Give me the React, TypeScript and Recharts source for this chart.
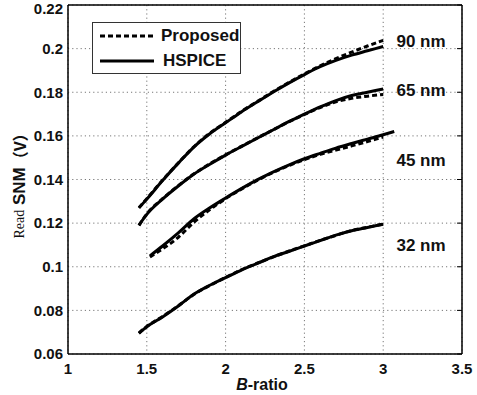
import { LineChart, Line, XAxis, YAxis, CartesianGrid, Legend, ReferenceDot } from "recharts";

// B-ratio sample points
const bRatio = [1.45, 1.5, 1.6, 1.7, 1.8, 1.9, 2.0, 2.1, 2.2, 2.3, 2.4, 2.5, 2.6, 2.7, 2.8, 2.9, 3.0];
const bRatio45 = [1.52, 1.6, 1.7, 1.8, 1.9, 2.0, 2.1, 2.2, 2.3, 2.4, 2.5, 2.6, 2.7, 2.8, 2.9, 3.0, 3.07];
const bRatio45p = [1.52, 1.6, 1.7, 1.8, 1.9, 2.0, 2.1, 2.2, 2.3, 2.4, 2.5, 2.6, 2.7, 2.8, 2.9, 3.0];

// Read SNM (V)
const hspice90 = [0.127, 0.131, 0.1395, 0.1475, 0.155, 0.161, 0.166, 0.171, 0.1755, 0.18, 0.1842, 0.1881, 0.1917, 0.1946, 0.197, 0.199, 0.201];
const proposed90 = [0.127, 0.1312, 0.1397, 0.1476, 0.1551, 0.1612, 0.1662, 0.1712, 0.1757, 0.1802, 0.1844, 0.1884, 0.1921, 0.1954, 0.1984, 0.2012, 0.2038];
const hspice65 = [0.119, 0.124, 0.131, 0.137, 0.1425, 0.147, 0.1512, 0.1551, 0.1589, 0.1627, 0.1665, 0.17, 0.1733, 0.1762, 0.1785, 0.18, 0.1815];
const proposed65 = [0.119, 0.1242, 0.1312, 0.1372, 0.1426, 0.1472, 0.1513, 0.1552, 0.159, 0.1627, 0.1664, 0.1698, 0.173, 0.1756, 0.1772, 0.1782, 0.179];
const hspice45 = [0.105, 0.1095, 0.1155, 0.122, 0.127, 0.1315, 0.1358, 0.1398, 0.1434, 0.1466, 0.1495, 0.152, 0.1544, 0.1565, 0.1585, 0.1605, 0.162];
const proposed45 = [0.1045, 0.1082, 0.1135, 0.1205, 0.1262, 0.1312, 0.1356, 0.1396, 0.1432, 0.1463, 0.1491, 0.1515, 0.1535, 0.1554, 0.1574, 0.1595];
const hspice32 = [0.0695, 0.0725, 0.077, 0.082, 0.0875, 0.0915, 0.095, 0.0985, 0.1015, 0.1045, 0.107, 0.1095, 0.112, 0.1145, 0.1165, 0.118, 0.1195];
const proposed32 = [0.0696, 0.0726, 0.0772, 0.0821, 0.0874, 0.0914, 0.0951, 0.0986, 0.1016, 0.1044, 0.1071, 0.1096, 0.1121, 0.1144, 0.1166, 0.1181, 0.1196];

const xTicks = [1, 1.5, 2, 2.5, 3, 3.5];
const yTicks = [0.06, 0.08, 0.1, 0.12, 0.14, 0.16, 0.18, 0.2, 0.22];

const nodeLabels = [
  { text: "90 nm", x: 3.24, y: 0.2035 },
  { text: "65 nm", x: 3.24, y: 0.181 },
  { text: "45 nm", x: 3.24, y: 0.149 },
  { text: "32 nm", x: 3.24, y: 0.11 },
];

const zip = (xs: number[], ys: number[]) => ys.map((v, i) => ({ b: xs[i], snm: v }));

const series = [
  { name: "hspice90", data: zip(bRatio, hspice90), dashed: false },
  { name: "proposed90", data: zip(bRatio, proposed90), dashed: true },
  { name: "hspice65", data: zip(bRatio, hspice65), dashed: false },
  { name: "proposed65", data: zip(bRatio, proposed65), dashed: true },
  { name: "hspice45", data: zip(bRatio45, hspice45), dashed: false },
  { name: "proposed45", data: zip(bRatio45p, proposed45), dashed: true },
  { name: "hspice32", data: zip(bRatio, hspice32), dashed: false },
  { name: "proposed32", data: zip(bRatio, proposed32), dashed: true },
];

const SANS = "'Liberation Sans', Arial, sans-serif";
const tickStyle = { fontSize: 15, fontWeight: 700, fill: "#111", fontFamily: SANS };
const fmt = (v: number) => String(+v.toFixed(2));

function LegendBox() {
  const row = (dashed: boolean, label: string) => (
    <div style={{ display: "flex", alignItems: "center", height: 25 }}>
      <svg width={54} height={6} style={{ marginLeft: 7 }}>
        <line x1={0} y1={3} x2={54} y2={3} stroke="#000" strokeWidth={3.2} strokeDasharray={dashed ? "5 3" : undefined} />
      </svg>
      <span style={{ marginLeft: dashed ? 7 : 9, fontFamily: SANS, fontWeight: 700, fontSize: 17, color: "#111" }}>{label}</span>
    </div>
  );
  return (
    <div style={{ width: 147, height: 50, border: "1px solid #333", background: "#fff", overflow: "hidden" }}>
      {row(true, "Proposed")}
      {row(false, "HSPICE")}
    </div>
  );
}

export default function App() {
  return (
    <div style={{ width: 477, height: 395, background: "#fff" }}>
      <style>{"body{margin:0}"}</style>
      <LineChart width={477} height={395} margin={{ top: 5, right: 15, left: 0, bottom: 0 }}>
        <CartesianGrid stroke="#777" strokeDasharray="1.2 3" />
        <XAxis
          dataKey="b"
          type="number"
          domain={[1, 3.5]}
          ticks={xTicks}
          height={41}
          tickLine={false}
          tickSize={7}
          tickMargin={2}
          axisLine={{ stroke: "#000", strokeWidth: 1.5 }}
          tick={tickStyle}
          tickFormatter={fmt}
          allowDuplicatedCategory={false}
          label={{
            position: "insideBottom",
            content: () => (
              <text x={262} y={390} textAnchor="middle" fontFamily={SANS} fontWeight={700} fontSize={16} fill="#111">
                <tspan fontStyle="italic">B</tspan>-ratio
              </text>
            ),
          }}
        />
        <XAxis
          xAxisId="top"
          orientation="top"
          type="number"
          domain={[1, 3.5]}
          ticks={xTicks}
          mirror
          tickSize={4}
          tickFormatter={() => ""}
          tickLine={{ stroke: "#000" }}
          axisLine={{ stroke: "#000", strokeWidth: 1.5 }}
        />
        <YAxis
          type="number"
          domain={[0.06, 0.22]}
          ticks={yTicks}
          width={68}
          tickLine={false}
          tickSize={3}
          tickMargin={2}
          axisLine={{ stroke: "#000", strokeWidth: 1.5 }}
          tick={tickStyle}
          tickFormatter={fmt}
          label={{
            position: "insideLeft",
            content: () => (
              <text x={19} y={182} transform="rotate(-90, 19, 182)" textAnchor="middle" dominantBaseline="central" fill="#111">
                <tspan fontFamily="'Liberation Serif', serif" fontSize={14}>Read</tspan>
                <tspan fontFamily={SANS} fontWeight={700} fontSize={17}> SNM</tspan>
                <tspan fontFamily="'Noto Sans CJK SC', sans-serif" fontWeight={700} fontSize={16}>（V）</tspan>
              </text>
            ),
          }}
        />
        <YAxis
          yAxisId="right"
          orientation="right"
          type="number"
          domain={[0.06, 0.22]}
          ticks={yTicks}
          mirror
          allowDataOverflow
          tickSize={5}
          tickFormatter={() => ""}
          tickLine={{ stroke: "#000" }}
          axisLine={{ stroke: "#000", strokeWidth: 1.5 }}
        />
        <Legend
          layout="vertical"
          align="center"
          verticalAlign="middle"
          wrapperStyle={{ left: 92, top: 22, width: 149, height: 52 }}
          content={() => <LegendBox />}
        />
        {series.map((s) => (
          <Line
            key={s.name}
            data={s.data}
            dataKey="snm"
            type="monotone"
            stroke="#000"
            strokeWidth={3}
            strokeDasharray={s.dashed ? "5 3" : undefined}
            dot={false}
            activeDot={false}
            legendType="none"
            isAnimationActive={false}
          />
        ))}
        {nodeLabels.map((l) => (
          <ReferenceDot
            key={l.text}
            x={l.x}
            y={l.y}
            r={0}
            fill="none"
            stroke="none"
            label={{ value: l.text, position: "center", fontFamily: SANS, fontWeight: 700, fontSize: 17, fill: "#111" }}
          />
        ))}
      </LineChart>
    </div>
  );
}
